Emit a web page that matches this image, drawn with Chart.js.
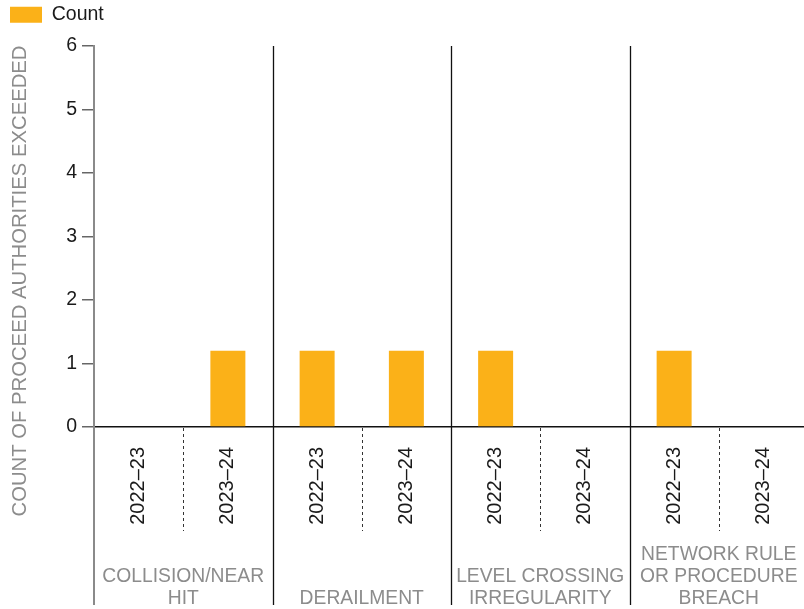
<!DOCTYPE html>
<html>
<head>
<meta charset="utf-8">
<script src="https://cdn.jsdelivr.net/npm/chart.js@4/dist/chart.umd.min.js"></script>
<style>
  html, body { margin: 0; padding: 0; background: #fff; overflow: hidden; }
  #wrap { width: 808px; height: 609px; }
</style>
</head>
<body>
<div id="wrap"><canvas id="c" width="808" height="609"></canvas></div>
<script>
// Incident categories, each split into two financial years
const groups = [
  ['COLLISION/NEAR', 'HIT'],
  ['DERAILMENT'],
  ['LEVEL CROSSING', 'IRREGULARITY'],
  ['NETWORK RULE', 'OR PROCEDURE', 'BREACH']
];
const years = ['2022–23', '2023–24'];
const counts2022 = [0, 1.2, 1.2, 1.2];
const counts2023 = [1.2, 1.2, 0, 0];
const yTicks = [0, 1, 2, 3, 4, 5, 6];

const labels = [];
const values = [];
groups.forEach((g, i) => {
  labels.push(years[0]); values.push(counts2022[i]);
  labels.push(years[1]); values.push(counts2023[i]);
});

const FONT = '"Liberation Sans", Arial, Helvetica, sans-serif';
const PLOT_TOP = 46;

// Give the legend extra room underneath so the plot starts lower
const legendGap = {
  id: 'legendGap',
  beforeLayout(chart) {
    const lg = chart.legend;
    if (lg && !lg._gapPatched) {
      const fit = lg.fit.bind(lg);
      lg.fit = function () {
        fit();
        this.height = PLOT_TOP;
      };
      lg._gapPatched = true;
    }
  }
};

// Separators, group captions and the rotated axis title
const groupAxis = {
  id: 'groupAxis',
  afterDraw(chart) {
    const { ctx, chartArea: ca } = chart;
    const catW = (ca.right - ca.left) / labels.length;
    const bottom = 605;
    ctx.save();
    // extend the value axis line down through the category band
    ctx.strokeStyle = '#8a8a8a';
    ctx.lineWidth = 2;
    ctx.beginPath();
    ctx.moveTo(ca.left, ca.bottom);
    ctx.lineTo(ca.left, bottom);
    ctx.stroke();
    // solid separators between groups
    ctx.strokeStyle = '#111';
    ctx.lineWidth = 1.3;
    for (let k = 1; k < groups.length; k++) {
      const gx = Math.round(ca.left + k * 2 * catW) + 0.5;
      ctx.beginPath();
      ctx.moveTo(gx, ca.top);
      ctx.lineTo(gx, bottom);
      ctx.stroke();
    }
    // dotted separators between years
    ctx.strokeStyle = '#333';
    ctx.lineWidth = 1;
    ctx.setLineDash([3, 3]);
    for (let k = 0; k < groups.length; k++) {
      const dx = Math.round(ca.left + (2 * k + 1) * catW) + 0.5;
      ctx.beginPath();
      ctx.moveTo(dx, ca.bottom + 1);
      ctx.lineTo(dx, 531);
      ctx.stroke();
    }
    ctx.setLineDash([]);
    // group captions, bottom aligned
    ctx.fillStyle = '#8c8c8c';
    ctx.font = '19.3px ' + FONT;
    ctx.textAlign = 'center';
    ctx.textBaseline = 'alphabetic';
    groups.forEach((lines, k) => {
      const cx = ca.left + (2 * k + 1) * catW;
      lines.forEach((t, j) => {
        const y = 604 - (lines.length - 1 - j) * 22;
        ctx.fillText(t, cx, y);
      });
    });
    // axis title
    ctx.translate(20, 281);
    ctx.rotate(-Math.PI / 2);
    ctx.textBaseline = 'middle';
    ctx.font = '20.3px ' + FONT;
    ctx.fillText('COUNT OF PROCEED AUTHORITIES EXCEEDED', 0, 0);
    ctx.restore();
  }
};

new Chart(document.getElementById('c'), {
  type: 'bar',
  data: {
    labels: labels,
    datasets: [{
      label: 'Count',
      data: values,
      backgroundColor: '#FBB118',
      borderWidth: 0,
      categoryPercentage: 1,
      barPercentage: 0.392
    }]
  },
  options: {
    responsive: false,
    animation: false,
    layout: { padding: { left: 5, top: 0, right: 0, bottom: 0 } },
    plugins: {
      legend: {
        display: true,
        align: 'start',
        labels: {
          boxWidth: 32,
          boxHeight: 16,
          padding: 5,
          color: '#1a1a1a',
          font: { family: FONT, size: 19.5 }
        }
      },
      tooltip: { enabled: false }
    },
    scales: {
      x: {
        offset: true,
        grid: { display: false, drawTicks: false },
        border: { display: true, color: '#111', width: 1.5 },
        ticks: {
          minRotation: 90,
          maxRotation: 90,
          autoSkip: false,
          padding: 20,
          color: '#1a1a1a',
          font: { family: FONT, size: 20 }
        },
        afterFit(scale) { scale.height = 182; }
      },
      y: {
        min: 0,
        max: 6,
        afterBuildTicks(scale) { scale.ticks = yTicks.map(v => ({ value: v })); },
        grid: { drawOnChartArea: false, drawTicks: true, tickLength: 12, color: '#666', lineWidth: 1.5 },
        border: { display: true, color: '#8a8a8a', width: 2 },
        ticks: {
          autoSkip: false,
          padding: 5,
          color: '#1a1a1a',
          font: { family: FONT, size: 19.5 }
        },
        afterFit(scale) { scale.width = 89; }
      }
    }
  },
  plugins: [legendGap, groupAxis]
});
</script>
</body>
</html>
